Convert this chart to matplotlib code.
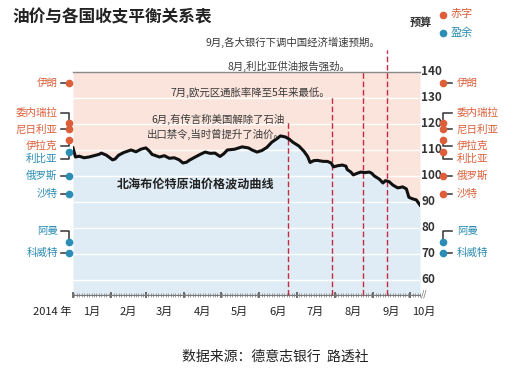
import matplotlib
matplotlib.use('Agg')
import matplotlib.pyplot as plt
import matplotlib.dates as mdates
import matplotlib.transforms as mtransforms
import pandas as pd

plt.rcParams['font.family'] = ['Noto Sans CJK SC', 'DejaVu Sans']

# Brent crude price, 2014
dates = ['2014-01-01', '2014-01-03', '2014-01-06', '2014-01-10', '2014-01-14', '2014-01-18',
         '2014-01-22', '2014-01-24', '2014-01-28', '2014-01-30', '2014-02-02', '2014-02-04',
         '2014-02-07', '2014-02-11', '2014-02-17', '2014-02-21', '2014-02-25', '2014-03-01',
         '2014-03-04', '2014-03-06', '2014-03-12', '2014-03-16', '2014-03-20', '2014-03-24',
         '2014-03-28', '2014-03-31', '2014-04-03', '2014-04-05', '2014-04-10', '2014-04-14',
         '2014-04-18', '2014-04-22', '2014-04-26', '2014-04-30', '2014-05-03', '2014-05-06',
         '2014-05-12', '2014-05-18', '2014-05-23', '2014-05-26', '2014-05-30', '2014-06-03',
         '2014-06-07', '2014-06-11', '2014-06-15', '2014-06-18', '2014-06-22', '2014-06-25',
         '2014-06-28', '2014-07-03', '2014-07-07', '2014-07-10', '2014-07-12', '2014-07-15',
         '2014-07-18', '2014-07-20', '2014-07-23', '2014-07-26', '2014-07-29', '2014-07-31',
         '2014-08-03', '2014-08-07', '2014-08-10', '2014-08-11', '2014-08-14', '2014-08-16',
         '2014-08-19', '2014-08-22', '2014-08-25', '2014-08-29', '2014-08-31', '2014-09-02',
         '2014-09-06', '2014-09-09', '2014-09-11', '2014-09-14', '2014-09-17', '2014-09-21',
         '2014-09-25', '2014-09-28', '2014-09-30', '2014-10-03', '2014-10-06', '2014-10-09']
prices = [110.8, 107.3, 107.6, 107.0, 107.3, 107.8,
          108.3, 108.8, 108.0, 107.3, 106.2, 106.5,
          108.0, 109.0, 110.0, 109.3, 110.3, 110.8,
          109.5, 108.3, 107.3, 107.8, 106.8, 107.0,
          106.2, 105.0, 105.3, 106.0, 107.3, 108.3,
          109.2, 108.7, 108.8, 107.5, 108.5, 110.0,
          110.3, 111.2, 110.8, 110.0, 109.2, 109.8,
          111.0, 113.0, 114.3, 115.4, 115.0, 114.2,
          113.0, 111.5, 109.5, 107.5, 105.2, 105.9,
          106.0, 105.8, 105.6, 105.6, 105.0, 103.5,
          103.9, 104.2, 103.8, 102.5, 101.5, 100.4,
          101.0, 101.5, 101.3, 101.5, 101.0, 100.0,
          98.8, 97.3, 98.2, 97.8, 96.5, 95.4,
          95.8, 95.0, 91.8, 91.2, 90.8, 88.8]

# fiscal break-even oil price by country
countries = ['伊朗', '委内瑞拉', '尼日利亚', '伊拉克', '利比亚', '俄罗斯', '沙特', '阿曼', '科威特']
breakeven = [135.8, 120.4, 118.0, 113.8, 109.2, 100.0, 93.0, 74.6, 70.4]
label_y = [135.8, 124.2, 117.7, 111.5, 106.5, 100.0, 93.0, 78.8, 70.4]

# events
event_dates = ['2014-06-24', '2014-07-30', '2014-08-24', '2014-09-12']
event_tops = [120.8, 130.4, 140.0, 148.5]
event_texts = ['6月,有传言称美国解除了石油\n出口禁令,当时曾提升了油价。',
               '7月,欧元区通胀率降至5年来最低。',
               '8月,利比亚供油报告强劲。',
               '9月,各大银行下调中国经济增速预期。']
event_text_y = [118.8, 132.3, 142.0, 151.2]
event_text_x = [0.611, 0.741, 0.798, 0.885]

month_names = ['1月', '2月', '3月', '4月', '5月', '6月', '7月', '8月', '9月', '10月']
month_pos = ['2014-01-16', '2014-02-15', '2014-03-16', '2014-04-16', '2014-05-16',
             '2014-06-16', '2014-07-16', '2014-08-16', '2014-09-16', '2014-10-12']
yticks = [60, 70, 80, 90, 100, 110, 120, 130, 140]

PINK = '#fbe4dc'
BLUE = '#dfecf5'
RED = '#dd5f3a'
TEAL = '#2b8db3'
YMIN, YMAX = 54.2, 140

fig = plt.figure(figsize=(5.05, 3.70), dpi=100)
ax = fig.add_axes([73 / 505, 1 - 295 / 370, 347 / 505, 223 / 370])
x = pd.to_datetime(dates)
ax.set_xlim(pd.Timestamp('2014-01-01'), pd.Timestamp('2014-10-09'))
ax.set_ylim(YMIN, YMAX)
tr = mtransforms.blended_transform_factory(ax.transAxes, ax.transData)

ax.fill_between(x, prices, YMAX, color=PINK, lw=0, zorder=0)
ax.fill_between(x, YMIN, prices, color=BLUE, lw=0, zorder=0)
for v in yticks[:-1]:
    ax.axhline(v, color='white', lw=1, zorder=1)
ax.add_line(plt.Line2D([0, 1.0], [YMAX, YMAX], transform=tr, color='#8a8a8a', lw=1,
                       zorder=2, clip_on=False))
ax.plot(x, prices, color='#111111', lw=2.2, zorder=5, solid_joinstyle='round')

# event lines and notes
for d, top, txt, ty, tx in zip(event_dates, event_tops, event_texts, event_text_y, event_text_x):
    dd = pd.Timestamp(d)
    ax.plot([dd, dd], [YMIN, top], color='#c62b3f', lw=1, ls=(0, (4, 2)), zorder=4, clip_on=False)
    ax.text(tx, ty, txt, transform=tr, ha='right', va='center', fontsize=7.5,
            color='#3a3a3a', linespacing=1.35, zorder=6)

ax.text(0.127, 97, '北海布伦特原油价格波动曲线', transform=tr, fontsize=8.7,
        fontweight='bold', color='#222222', va='center', ha='left', zorder=6)

# x axis
for s in ['top', 'left', 'right']:
    ax.spines[s].set_visible(False)
ax.spines['bottom'].set_color('#777777')
ax.spines['bottom'].set_linewidth(0.8)
ax.xaxis.set_major_locator(mdates.MonthLocator())
ax.xaxis.set_minor_locator(mdates.DayLocator(interval=2))
ax.xaxis.set_major_formatter(plt.NullFormatter())
ax.tick_params(axis='x', which='major', direction='inout', length=5, width=1.2, color='#555555')
ax.tick_params(axis='x', which='minor', direction='inout', length=3, width=0.5, color='#777777')
ax.set_yticks([])
for name, pos in zip(month_names, month_pos):
    ax.text(pd.Timestamp(pos), 47.6, name, ha='center', va='center', fontsize=8,
            color='#222222', clip_on=False)
ax.text(-0.06, 47.6, '2014 年', transform=tr, ha='center', va='center', fontsize=8, color='#222222')
ax.text(1.012, YMIN + 0.3, '//', transform=tr, ha='center', va='center', fontsize=6,
        color='#555555', style='italic')

# right axis numbers
for v in yticks:
    ax.text(1.004, v, str(v), transform=tr, ha='left', va='center', fontsize=8.5,
            fontweight='semibold', color='#333333')

# country markers, left (start price) and right (end price)
for side, price in (('L', prices[0]), ('R', prices[-1])):
    for name, be, ly in zip(countries, breakeven, label_y):
        col = RED if be > price else TEAL
        if side == 'L':
            mx, cx, lx, ha = -0.0115, -0.036, -0.044, 'right'
        else:
            mx, cx, lx, ha = 1.0663, 1.092, 1.106, 'left'
        if abs(be - ly) < 0.5:
            xs, ys = [cx, mx], [be, be]
        else:
            xs, ys = [cx, mx, mx], [ly, ly, be]
        ax.add_line(plt.Line2D(xs, ys, transform=tr, color='#333333', lw=1.1,
                               clip_on=False, zorder=6))
        ax.add_line(plt.Line2D([mx], [be], transform=tr, marker='o', color=col, ms=4.5,
                               clip_on=False, zorder=7))
        ax.text(lx, ly, name, transform=tr, ha=ha, va='center', fontsize=7.6, color=col)

# title, legend, source
fig.text(12 / 505, 1 - 17 / 370, '油价与各国收支平衡关系表', fontsize=12, fontweight='bold',
         color='#222222', ha='left', va='center')
fig.text(432 / 505, 1 - 22 / 370, '预算', fontsize=8, fontweight='bold', color='#333333',
         ha='right', va='center')
fig.add_artist(plt.Line2D([443 / 505], [1 - 15 / 370], marker='o', color=RED, ms=4.5))
fig.add_artist(plt.Line2D([443 / 505], [1 - 33 / 370], marker='o', color=TEAL, ms=4.5))
fig.text(451 / 505, 1 - 14 / 370, '赤字', fontsize=8, color=RED, ha='left', va='center')
fig.text(451 / 505, 1 - 33 / 370, '盈余', fontsize=8, color=TEAL, ha='left', va='center')
fig.text(275 / 505, 1 - 357 / 370, '数据来源：德意志银行  路透社', fontsize=10, color='#222222',
         ha='center', va='center')

fig.savefig('out.png', dpi=100)
